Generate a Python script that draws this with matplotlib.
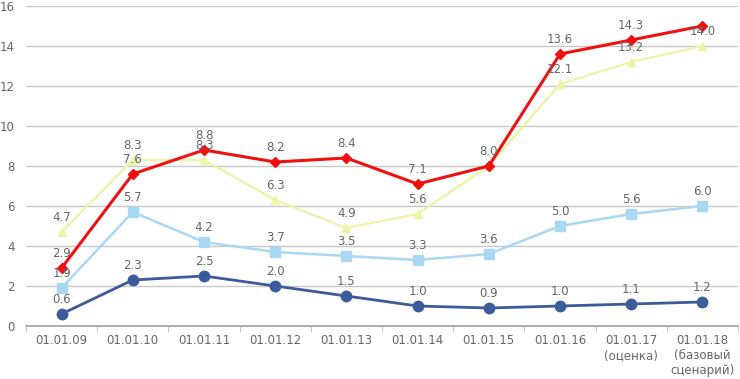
import matplotlib
matplotlib.use("Agg")
import matplotlib.pyplot as plt
import numpy as np

categories = ["01.01.09", "01.01.10", "01.01.11", "01.01.12", "01.01.13",
              "01.01.14", "01.01.15", "01.01.16", "01.01.17\n(оценка)",
              "01.01.18\n(базовый\nсценарий)"]
dark_blue = [0.6, 2.3, 2.5, 2.0, 1.5, 1.0, 0.9, 1.0, 1.1, 1.2]
light_blue = [1.9, 5.7, 4.2, 3.7, 3.5, 3.3, 3.6, 5.0, 5.6, 6.0]
yellow = [4.7, 8.3, 8.3, 6.3, 4.9, 5.6, 8.0, 12.1, 13.2, 14.0]
red = [2.9, 7.6, 8.8, 8.2, 8.4, 7.1, 8.0, 13.6, 14.3, 15.0]
yticks = [0, 2, 4, 6, 8, 10, 12, 14, 16]

fig = plt.figure(figsize=(7.4, 3.79), dpi=100)
ax = fig.add_axes([26/740, 53/379, 712/740, 320/379])
x = np.arange(len(categories))

grid_c = "#c8c8c8"
txt_c = "#666666"

series = [
    (yellow, "#eef3a6", "^", 6, 1.6),
    (light_blue, "#a9d8f5", "s", 7, 1.8),
    (dark_blue, "#3b5b9a", "o", 7.5, 2.0),
    (red, "#ee1111", "D", 5.5, 2.2),
]
for vals, c, m, ms, lw in series:
    ax.plot(x, vals, color=c, marker=m, markersize=ms, linewidth=lw,
            markeredgecolor=c, zorder=3)

for vals, c, m, ms, lw in series:
    for i, v in enumerate(vals):
        if vals is red and i == len(vals) - 1:
            continue
        if vals is red and i == 6:
            continue
        ax.annotate(f"{v:.1f}", (i, v), xytext=(0, 6), textcoords="offset points",
                    ha="center", va="bottom", fontsize=8.5, color=txt_c, zorder=4)

ax.set_xlim(-0.5, len(categories) - 0.5)
ax.set_ylim(0, 16)
ax.set_yticks(yticks)
ax.set_yticklabels([str(t) for t in yticks])
ax.yaxis.grid(True, color=grid_c, linewidth=1)
ax.set_axisbelow(True)
for s in ["top", "right", "left"]:
    ax.spines[s].set_visible(False)
ax.spines["bottom"].set_color("#a0a0a0")
ax.spines["bottom"].set_linewidth(1.2)
ax.tick_params(axis="y", length=0, labelsize=8.5, labelcolor=txt_c, pad=8)
ax.set_xticks(x)
ax.set_xticklabels(categories, fontsize=8.5, color=txt_c, linespacing=1.2)
ax.tick_params(axis="x", length=0, pad=6)
ax.set_xticks(np.arange(len(categories) + 1) - 0.5, minor=True)
ax.tick_params(axis="x", which="minor", length=4, color="#c0c0c0")

fig.savefig("out.png", dpi=100)
